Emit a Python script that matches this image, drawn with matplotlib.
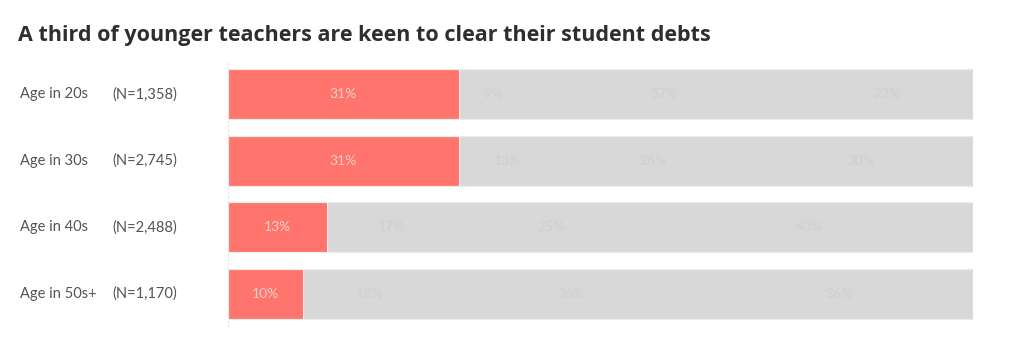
import matplotlib
matplotlib.use("Agg")
import matplotlib.pyplot as plt
import numpy as np

plt.rcParams['font.family'] = ['Lato', 'DejaVu Sans']

title = "A third of younger teachers are keen to clear their student debts"
groups = ["Age in 20s", "Age in 30s", "Age in 40s", "Age in 50s+"]
sample_sizes = ["(N=1,358)", "(N=2,745)", "(N=2,488)", "(N=1,170)"]
seg1 = [31, 31, 13, 10]
seg2 = [9, 13, 17, 18]
seg3 = [37, 26, 25, 36]
seg4 = [23, 30, 43, 36]

W, H = 1024, 341
fig = plt.figure(figsize=(W / 100, H / 100), dpi=100)
ax_left, ax_right = 228 / W, 973 / W
ax_top, ax_bot = 61 / H, 327 / H
ax = fig.add_axes([ax_left, 1 - ax_bot, ax_right - ax_left, ax_bot - ax_top])

red = "#FF746C"
grey = "#D8D8D8"
y = np.arange(len(groups))
segs = np.array([seg1, seg2, seg3, seg4], dtype=float)
totals = segs.sum(axis=0)
shares = segs / totals * 100
colors = [red, grey, grey, grey]
label_colors = ["#F4CFCB", "#CFCFCF", "#CFCFCF", "#CFCFCF"]
left = np.zeros(len(groups))
bh = 0.75
for raw, vals, c, lc in zip(segs, shares, colors, label_colors):
    ax.barh(y, vals, left=left, height=bh, color=c, edgecolor="none", linewidth=0)
    for yi, l, v, r in zip(y, left, vals, raw):
        ax.text(l + v / 2, yi, f"{int(r)}%", ha="center", va="center",
                fontsize=10, color=lc)
    left += vals
# faint outline around each full bar and boundary after the red segment
ax.barh(y, left, height=bh, color="none", edgecolor="#EBEBEB", linewidth=0.9)
for yi, s in zip(y, shares[0]):
    ax.plot([s, s], [yi - bh / 2, yi + bh / 2], color="#F0F0F0", linewidth=0.7)

ax.set_xlim(0, 100)
ax.set_ylim(len(groups) - 0.5, -0.5)
ax.axis("off")
ax.axvline(0, color="#E0E0E0", linestyle=(0, (2, 2)), linewidth=0.8, zorder=0)

fig.text(18 / W, 1 - 35 / H, title, fontsize=15.5, fontweight="bold", color="#2E2E2E",
         family=["Open Sans", "DejaVu Sans"], ha="left", va="center")
for yi, g, n in zip(y, groups, sample_sizes):
    ax.text(-208 / 745 * 100, yi, g, ha="left", va="center", fontsize=10.5, color="#555555")
    ax.text(-116 / 745 * 100, yi, n, ha="left", va="center", fontsize=10.5, color="#555555")

fig.savefig("out.png", dpi=100, facecolor="white")
